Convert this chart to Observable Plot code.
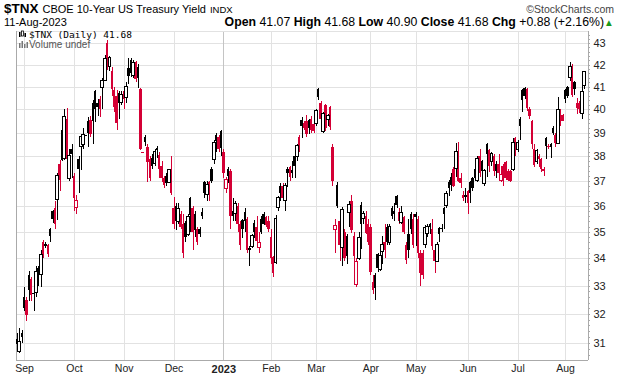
<!DOCTYPE html>
<html><head><meta charset="utf-8">
<script src="https://cdn.jsdelivr.net/npm/d3@7"></script>
<script src="https://cdn.jsdelivr.net/npm/@observablehq/plot@0.6"></script>
<style>
html,body{margin:0;padding:0;background:#fff;}
#wrap{position:relative;width:620px;height:376px;overflow:hidden;font-family:"Liberation Sans",Arial,sans-serif;}
#chart{position:absolute;left:0;top:30px;}
#over{position:absolute;left:0;top:0;pointer-events:none;}
</style></head><body>
<div id="wrap"><div id="chart"></div>
<svg id="over" width="620" height="376" xmlns="http://www.w3.org/2000/svg">
  <text x="4" y="13" font-family="Liberation Sans, Arial, sans-serif"><tspan font-weight="bold" font-size="13.5">$TNX</tspan><tspan font-size="11" dx="4">CBOE 10-Year US Treasury Yield</tspan><tspan font-size="9.5" dx="4">INDX</tspan></text>
  <text x="614" y="13" text-anchor="end" font-size="10.5" fill="#444" font-family="Liberation Sans, Arial, sans-serif">©StockCharts.com</text>
  <text x="4" y="26" font-size="11" font-family="Liberation Sans, Arial, sans-serif">11-Aug-2023</text>
  <text x="604" y="26" text-anchor="end" font-size="12.3" font-family="Liberation Sans, Arial, sans-serif"><tspan font-weight="bold">Open</tspan> 41.07 <tspan font-weight="bold">High</tspan> 41.68 <tspan font-weight="bold">Low</tspan> 40.90 <tspan font-weight="bold">Close</tspan> 41.68 <tspan font-weight="bold">Chg</tspan> +0.88 (+2.16%)</text>
  <text x="606" y="25" font-size="7.5" fill="#1a9a1a" font-family="DejaVu Sans, sans-serif">▲</text>
  <g>
    <rect x="19" y="32" width="1.5" height="5" fill="#000"/>
    <rect x="21.5" y="31" width="2" height="5" fill="#fff" stroke="#000" stroke-width="0.8"/>
    <rect x="24.5" y="33" width="1.5" height="4" fill="#000"/>
  </g>
  <text x="29" y="38" font-size="9.5" font-family="DejaVu Sans Mono, monospace">$TNX (Daily) 41.68</text>
  <g fill="#777">
    <rect x="19" y="43" width="1.5" height="5"/>
    <rect x="21.5" y="41" width="1.5" height="7"/>
    <rect x="24" y="44" width="1.5" height="4"/>
    <rect x="26.5" y="42" width="1.5" height="6"/>
  </g>
  <text x="29" y="48" font-size="10" fill="#555" font-family="Liberation Sans, Arial, sans-serif">Volume undef</text>
</svg>
</div>
<script>
const dates = [
"2022-08-29","2022-08-30","2022-08-31",
"2022-09-01","2022-09-02","2022-09-06","2022-09-07","2022-09-08","2022-09-09","2022-09-12","2022-09-13","2022-09-14","2022-09-15","2022-09-16","2022-09-19","2022-09-20","2022-09-21","2022-09-22","2022-09-23","2022-09-26","2022-09-27","2022-09-28","2022-09-29","2022-09-30",
"2022-10-03","2022-10-04","2022-10-05","2022-10-06","2022-10-07","2022-10-10","2022-10-11","2022-10-12","2022-10-13","2022-10-14","2022-10-17","2022-10-18","2022-10-19","2022-10-20","2022-10-21","2022-10-24","2022-10-25","2022-10-26","2022-10-27","2022-10-28","2022-10-31",
"2022-11-01","2022-11-02","2022-11-03","2022-11-04","2022-11-07","2022-11-08","2022-11-09","2022-11-10","2022-11-11","2022-11-14","2022-11-15","2022-11-16","2022-11-17","2022-11-18","2022-11-21","2022-11-22","2022-11-23","2022-11-25","2022-11-28","2022-11-29","2022-11-30",
"2022-12-01","2022-12-02","2022-12-05","2022-12-06","2022-12-07","2022-12-08","2022-12-09","2022-12-12","2022-12-13","2022-12-14","2022-12-15","2022-12-16","2022-12-19","2022-12-20","2022-12-21","2022-12-22","2022-12-23","2022-12-27","2022-12-28","2022-12-29","2022-12-30",
"2023-01-03","2023-01-04","2023-01-05","2023-01-06","2023-01-09","2023-01-10","2023-01-11","2023-01-12","2023-01-13","2023-01-17","2023-01-18","2023-01-19","2023-01-20","2023-01-23","2023-01-24","2023-01-25","2023-01-26","2023-01-27","2023-01-30","2023-01-31",
"2023-02-01","2023-02-02","2023-02-03","2023-02-06","2023-02-07","2023-02-08","2023-02-09","2023-02-10","2023-02-13","2023-02-14","2023-02-15","2023-02-16","2023-02-17","2023-02-21","2023-02-22","2023-02-23","2023-02-24","2023-02-27","2023-02-28",
"2023-03-01","2023-03-02","2023-03-03","2023-03-06","2023-03-07","2023-03-08","2023-03-09","2023-03-10","2023-03-13","2023-03-14","2023-03-15","2023-03-16","2023-03-17","2023-03-20","2023-03-21","2023-03-22","2023-03-23","2023-03-24","2023-03-27","2023-03-28","2023-03-29","2023-03-30","2023-03-31",
"2023-04-03","2023-04-04","2023-04-05","2023-04-06","2023-04-10","2023-04-11","2023-04-12","2023-04-13","2023-04-14","2023-04-17","2023-04-18","2023-04-19","2023-04-20","2023-04-21","2023-04-24","2023-04-25","2023-04-26","2023-04-27","2023-04-28",
"2023-05-01","2023-05-02","2023-05-03","2023-05-04","2023-05-05","2023-05-08","2023-05-09","2023-05-10","2023-05-11","2023-05-12","2023-05-15","2023-05-16","2023-05-17","2023-05-18","2023-05-19","2023-05-22","2023-05-23","2023-05-24","2023-05-25","2023-05-26","2023-05-30","2023-05-31",
"2023-06-01","2023-06-02","2023-06-05","2023-06-06","2023-06-07","2023-06-08","2023-06-09","2023-06-12","2023-06-13","2023-06-14","2023-06-15","2023-06-16","2023-06-20","2023-06-21","2023-06-22","2023-06-23","2023-06-26","2023-06-27","2023-06-28","2023-06-29","2023-06-30",
"2023-07-03","2023-07-05","2023-07-06","2023-07-07","2023-07-10","2023-07-11","2023-07-12","2023-07-13","2023-07-14","2023-07-17","2023-07-18","2023-07-19","2023-07-20","2023-07-21","2023-07-24","2023-07-25","2023-07-26","2023-07-27","2023-07-28","2023-07-31",
"2023-08-01","2023-08-02","2023-08-03","2023-08-04","2023-08-07","2023-08-08","2023-08-09","2023-08-10","2023-08-11"];

const open = [31.15,30.7,31.35,32.6,32.5,33.4,33.25,32.75,32.75,33.65,
33.4,34.6,34.55,34.5,35.1,35.8,35.9,36.25,37.7,39.1,
37.9,39.6,37.1,38.3,37.2,35.95,37.9,38.4,38.5,38.9,
39.5,39.55,40.3,40.8,40.3,40.45,40.95,41.3,43.0,41.9,
41.7,40.85,40.6,40.7,40.3,40.8,40.5,41.85,42.2,41.5,
42.1,41.9,40.9,38.2,38.8,38.4,37.9,37.95,37.7,38.35,
38.05,37.6,37.1,37.2,36.95,37.5,35.9,36.0,35.4,35.7,
35.3,35.35,34.9,36.3,35.9,35.7,35.1,35.1,35.75,36.95,
36.45,36.95,37.5,37.85,38.9,38.8,39.05,38.2,36.7,37.5,
37.4,35.8,35.7,36.0,35.3,35.45,35.75,35.5,34.4,34.45,
35.35,35.2,34.4,35.5,35.7,35.55,35.4,34.8,34.05,33.85,
35.95,36.8,36.8,36.2,37.5,37.55,37.45,38.0,38.0,38.8,
39.55,39.4,39.5,39.55,39.6,39.35,39.4,40.9,40.3,39.05,
40.2,39.55,40.1,38.4,35.1,36.85,35.4,34.4,35.0,34.85,
35.75,36.2,34.85,33.06,34.0,36.05,35.5,35.6,35.3,35.2,
33.15,33.4,34.15,33.6,34.25,34.6,35.2,34.6,35.9,35.8,
36.4,35.75,35.35,35.55,34.5,34.9,35.7,35.5,35.7,35.5,
34.2,34.2,34.5,34.95,35.3,35.1,34.3,33.9,35.15,35.15,
35.9,36.0,36.95,37.15,37.5,37.5,37.7,37.1,36.45,36.45,
36.6,36.95,37.1,37.5,37.0,38.0,37.8,36.9,38.5,38.25,
37.8,38.0,37.7,37.7,37.0,37.6,37.75,37.4,37.4,37.45,
38.75,38.3,39.6,40.85,40.95,40.9,40.0,39.5,38.3,37.8,
38.0,37.9,37.5,38.75,38.45,38.5,39.2,38.9,38.55,39.75,
39.75,40.85,41.0,41.4,41.95,41.2,40.3,40.3,39.8,41.07];

const high = [31.35,31.5,31.45,32.95,32.6,33.55,33.3,32.9,33.7,33.7,
34.3,34.7,34.6,34.55,35.15,35.85,36.2,37.3,37.85,39.15,
40.0,40.05,38.3,38.5,37.3,36.45,38.0,38.9,39.2,38.9,
39.65,39.7,40.4,40.85,40.45,40.6,41.4,42.45,43.15,42.4,
41.9,41.0,40.85,40.8,40.8,41.0,41.2,42.3,42.3,42.2,
42.15,42.05,40.95,38.2,38.9,38.5,38.0,38.1,38.3,38.45,
38.2,37.8,37.2,37.3,37.5,38.0,36.35,36.1,36.1,35.8,
35.7,35.4,35.7,36.35,36.0,35.8,35.2,35.2,35.9,37.0,
37.0,37.0,37.55,38.7,39.0,38.9,39.1,38.3,37.15,37.55,
37.5,36.3,36.2,36.1,35.4,35.5,35.9,35.55,34.45,34.9,
35.45,35.6,35.0,35.6,35.75,35.6,35.6,35.1,34.1,35.65,
36.4,36.9,36.9,36.9,37.55,37.6,37.8,38.2,38.5,38.9,
39.65,39.5,39.75,39.6,39.7,39.5,40.0,40.95,40.35,39.9,
40.25,39.8,40.15,38.5,35.5,36.95,35.5,35.95,35.1,34.9,
36.2,36.45,35.0,34.0,35.0,36.15,35.8,35.8,35.5,35.3,
33.4,33.45,34.2,34.4,34.85,35.3,35.3,35.3,36.0,36.1,
36.45,35.9,36.0,35.6,34.6,35.5,35.75,35.7,35.75,35.6,
34.3,34.3,35.25,35.3,35.35,35.5,34.35,34.6,35.2,35.3,
35.95,36.6,37.05,37.3,37.55,38.55,38.6,37.3,36.6,36.7,
36.65,37.0,37.15,37.55,38.0,38.3,37.85,37.5,38.55,38.3,
38.2,38.1,37.8,38.1,37.6,37.7,37.8,37.5,37.45,38.75,
38.8,38.7,39.65,40.9,41.0,40.95,40.1,39.55,38.5,38.3,
38.1,37.95,37.55,38.8,38.5,38.55,39.3,39.0,40.55,40.0,
39.8,40.9,41.05,42.1,42.05,41.25,40.5,40.35,41.05,41.68];

const low = [30.85,30.65,31.0,32.1,31.75,32.45,32.45,32.1,32.6,33.0,
32.95,34.0,34.4,34.05,34.6,35.35,35.1,35.45,36.6,37.8,
37.85,37.6,37.0,37.1,35.8,35.7,36.5,37.45,38.3,38.9,
38.4,38.8,38.5,39.45,39.7,39.65,40.0,41.25,41.75,41.7,
40.6,39.9,39.1,39.6,40.2,40.0,40.3,41.1,41.45,41.4,
41.2,40.95,38.25,38.2,38.45,36.95,37.0,37.5,37.6,37.95,
37.1,36.95,36.7,36.8,36.9,36.45,35.1,35.05,35.3,35.1,
34.0,34.6,34.85,35.0,34.3,34.8,34.5,34.8,35.5,36.3,
36.2,36.2,36.9,37.7,38.2,38.2,38.0,37.1,36.5,36.9,
35.1,35.4,35.4,35.0,34.3,34.75,35.0,34.2,33.7,34.4,
34.75,34.55,34.2,34.9,35.25,35.2,35.0,33.8,33.3,33.8,
35.8,36.2,36.2,35.8,36.75,37.0,37.1,37.1,37.8,38.2,
38.75,39.1,38.8,38.95,39.0,39.0,39.3,40.4,39.55,39.0,
39.05,39.3,39.1,36.8,34.2,35.9,33.9,33.7,33.9,33.8,
35.2,34.95,33.9,32.95,33.95,34.35,35.3,34.9,34.5,33.4,
32.7,32.5,33.5,33.55,33.8,34.0,34.5,34.5,35.5,35.4,
35.9,35.3,35.3,34.9,33.8,34.0,34.9,34.4,34.45,34.0,
33.0,33.25,34.4,34.8,34.9,34.3,33.45,33.85,34.6,35.0,
35.1,35.9,36.4,36.6,36.75,37.15,36.95,36.7,36.2,36.1,
35.7,36.1,36.6,37.0,36.95,37.15,37.25,36.8,37.15,37.35,
37.6,37.2,37.1,37.15,36.95,36.8,37.05,37.0,36.95,37.4,
38.0,38.2,38.7,39.9,40.45,39.95,39.6,38.3,37.55,37.7,
37.55,37.35,37.2,37.9,38.3,37.95,38.9,38.4,38.5,39.3,
39.5,40.3,40.5,41.25,40.55,40.65,39.8,39.85,39.6,40.9];

const close = [30.95,31.05,31.2,32.2,31.95,32.85,32.65,32.7,33.5,33.55,
34.15,34.1,34.45,34.15,34.85,35.5,35.3,37.2,37.05,37.85,
39.7,37.9,38.05,38.1,36.3,36.2,37.5,38.85,38.9,38.9,
39.0,38.95,39.5,40.0,40.1,40.0,41.3,42.3,42.1,42.35,
40.9,40.1,39.4,40.3,40.65,40.45,41.0,41.5,41.6,42.1,
41.35,41.4,38.3,38.2,38.6,37.75,37.1,37.6,38.2,38.25,
37.5,37.1,36.85,36.9,37.45,36.5,35.3,35.4,35.9,35.2,
34.2,34.8,35.6,35.65,35.0,35.05,34.6,34.9,35.6,36.5,
36.85,36.55,37.0,38.6,38.65,38.3,38.35,37.3,37.05,37.2,
35.6,35.6,36.1,35.3,34.5,35.1,35.4,34.3,34.3,34.85,
35.0,34.65,34.6,35.0,35.3,35.25,35.1,34.0,33.45,35.5,
36.35,36.5,36.3,36.8,37.3,37.15,37.3,37.6,38.45,38.3,
39.3,39.2,38.95,39.2,39.1,39.05,39.95,40.55,39.6,39.8,
39.2,39.75,39.25,37.0,35.25,36.0,34.5,35.85,34.0,34.1,
36.05,35.05,34.1,33.88,34.8,35.3,35.7,34.95,34.6,33.5,
32.85,32.9,33.65,34.1,34.5,34.3,34.6,35.2,35.6,35.7,
36.05,35.4,35.75,35.0,33.95,34.3,35.1,34.5,35.55,34.2,
33.45,33.4,35.15,35.2,35.2,34.45,33.9,34.5,34.9,35.1,
35.7,36.5,36.7,36.85,36.8,38.2,37.0,36.9,36.3,36.35,
36.1,36.5,36.7,37.1,37.9,37.3,37.4,37.4,38.1,37.6,
38.1,37.4,37.4,37.3,37.25,37.2,37.1,37.05,37.0,38.6,
38.1,38.6,39.3,40.4,40.6,40.05,39.7,38.5,37.65,38.25,
37.9,37.5,37.4,38.45,38.4,38.4,39.0,38.55,40.0,39.55,
39.5,40.45,40.6,41.9,40.65,40.9,40.05,40.0,40.8,41.68];

const monthLabels = ["Sep","Oct","Nov","Dec","2023","Feb","Mar","Apr","May","Jun","Jul","Aug"];
const yTicks = [31,32,33,34,35,36,37,38,39,40,41,42,43];

const RED = "#d40035", BLACK = "#000";
const X0 = -0.4, X1 = 240.7, Y0 = 30.43, Y1 = 43.57;

const rows = dates.map((d, i) => ({
  i, date: d, o: open[i], h: high[i], l: low[i], c: close[i],
  col: (i === 0 || close[i] >= close[i - 1]) ? BLACK : RED
}));
const monthStarts = [];
dates.forEach((d, i) => { if (i > 0 && d.slice(5, 7) !== dates[i - 1].slice(5, 7)) monthStarts.push(i); });
const months = monthStarts.map((i, k) => ({i, label: monthLabels[k]}));
const minorTicks = d3.range(306, 436, 2).map(v => v / 10);

const wick = col => Plot.ruleX(rows.filter(r => r.col === col), {x: "i", y1: "l", y2: "h", stroke: col, strokeWidth: 1, shapeRendering: "crispEdges"});
const filled = col => Plot.rect(rows.filter(r => r.col === col && r.c < r.o), {x1: r => r.i - 0.5, x2: r => r.i + 0.5, y1: "o", y2: "c", fill: col, shapeRendering: "crispEdges"});
const hollow = col => Plot.rect(rows.filter(r => r.col === col && r.c > r.o), {x1: r => r.i - 0.6, x2: r => r.i + 0.6, y1: "o", y2: "c", fill: "#fff", stroke: col, strokeWidth: 1, shapeRendering: "crispEdges"});
const doji = col => Plot.ruleY(rows.filter(r => r.col === col && r.c === r.o), {y: "c", x1: r => r.i - 0.7, x2: r => r.i + 0.7, stroke: col, shapeRendering: "crispEdges"});

const chart = Plot.plot({
  width: 620, height: 346,
  marginTop: 1, marginBottom: 16, marginLeft: 16, marginRight: 32,
  style: {fontFamily: "Liberation Sans, Arial, sans-serif", background: "transparent", overflow: "visible"},
  x: {type: "linear", domain: [X0, X1], axis: null},
  y: {type: "log", domain: [Y0, Y1], axis: null},
  marks: [
    Plot.ruleY(yTicks, {y: d => d, stroke: "#e2e2e2", shapeRendering: "crispEdges"}),
    Plot.ruleX(months.filter(m => m.label !== "2023"), {x: "i", stroke: "#e2e2e2", shapeRendering: "crispEdges"}),
    Plot.ruleX(months.filter(m => m.label === "2023"), {x: "i", stroke: "#c4c4c4", shapeRendering: "crispEdges"}),
    Plot.ruleY([Y1], {stroke: "#e2e2e2", shapeRendering: "crispEdges"}),
    Plot.ruleX([X0], {stroke: "#aaa", shapeRendering: "crispEdges"}),
    Plot.ruleX([X1], {stroke: "#aaa", shapeRendering: "crispEdges"}),
    Plot.ruleY([Y0], {stroke: "#aaa", shapeRendering: "crispEdges"}),
    Plot.ruleY(minorTicks, {y: d => d, x1: X1, x2: X1 + 0.85, stroke: "#aaa", shapeRendering: "crispEdges"}),
    wick(BLACK), wick(RED),
    filled(BLACK), filled(RED),
    hollow(BLACK), hollow(RED),
    doji(BLACK), doji(RED),
    Plot.text(yTicks, {x: X1, y: d => d, text: d => String(d), textAnchor: "start", dx: 5, fontSize: 11, fill: "#222"}),
    Plot.text(months.filter(m => m.label !== "2023"), {x: "i", y: Y0, text: "label", dy: 8.5, fontSize: 10.5, fill: "#222"}),
    Plot.text(months.filter(m => m.label === "2023"), {x: "i", y: Y0, text: "label", dy: 8.5, fontSize: 11, fontWeight: "bold", fill: "#222"})
  ]
});
document.getElementById("chart").appendChild(chart);
</script>
</body></html>
